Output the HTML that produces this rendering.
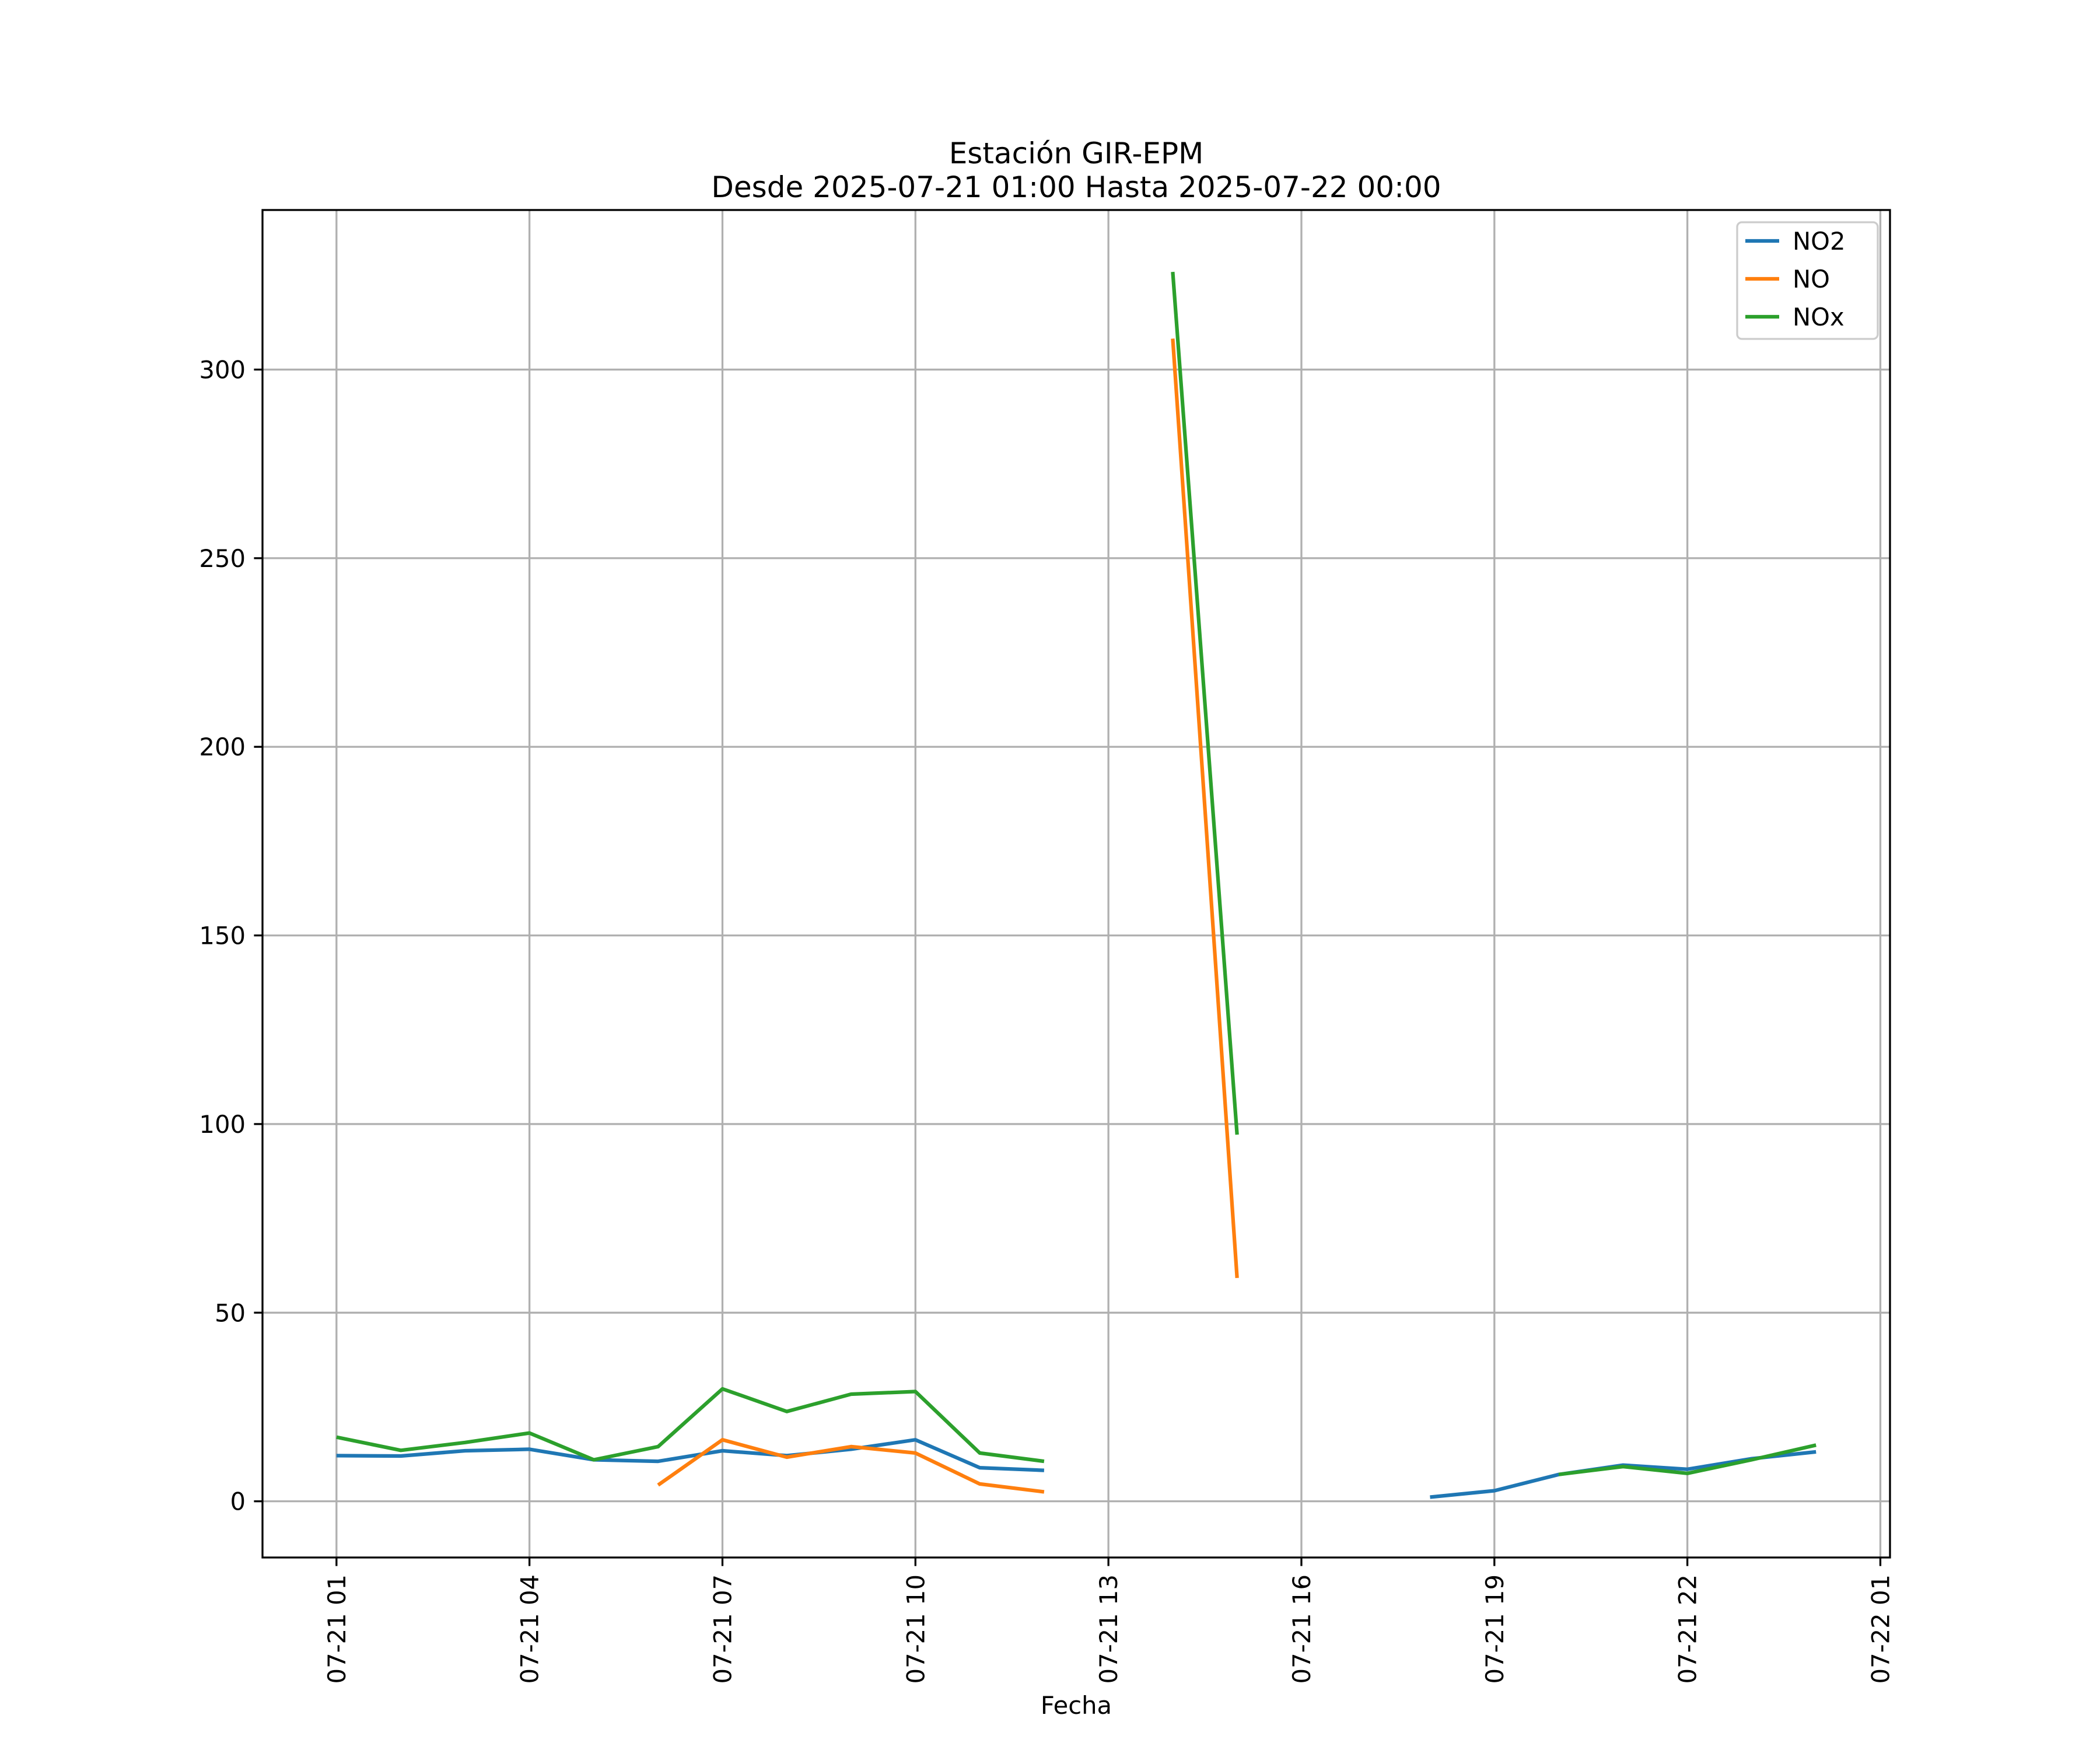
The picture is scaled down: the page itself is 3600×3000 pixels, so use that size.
<!DOCTYPE html>
<html><head><meta charset="utf-8"><style>
html,body{margin:0;padding:0;background:#fff;}
svg{display:block;font-family:"DejaVu Sans","Liberation Sans",sans-serif;}
</style></head><body>
<svg id="chart" width="3600" height="3000" viewBox="0 0 3600 3000" xmlns="http://www.w3.org/2000/svg">
<rect x="0" y="0" width="3600" height="3000" fill="#fff"/>
<text x="1845" y="280" font-size="50" text-anchor="middle">Estación GIR-EPM</text>
<text x="1845" y="338" font-size="50" text-anchor="middle">Desde 2025-07-21 01:00 Hasta 2025-07-22 00:00</text>
<g id="grid"></g>
<g id="series"></g>
<rect x="450" y="360" width="2790" height="2310" fill="none" stroke="#000" stroke-width="3.3"/>
<g id="axes"></g>
<text x="1845" y="2938" font-size="41.7" text-anchor="middle">Fecha</text>
<g>
<rect x="2978" y="381" width="241" height="200" rx="8" fill="#fff" fill-opacity="0.8" stroke="#ccc" stroke-width="3.3"/>
<g><line x1="2992" y1="413" x2="3050" y2="413" stroke="#1f77b4" stroke-width="6.25"/><text x="3073" y="428" font-size="41.7">NO2</text></g>
<g><line x1="2992" y1="478" x2="3050" y2="478" stroke="#ff7f0e" stroke-width="6.25"/><text x="3073" y="493" font-size="41.7">NO</text></g>
<g><line x1="2992" y1="543" x2="3050" y2="543" stroke="#2ca02c" stroke-width="6.25"/><text x="3073" y="558" font-size="41.7">NOx</text></g>
</g>
</svg>
<script>
const hours = [1,2,3,4,5,6,7,8,9,10,11,12,13,14,15,16,17,18,19,20,21,22,23,24];
const no2 = [12.1,12.0,13.4,13.8,11.0,10.6,13.4,12.1,13.8,16.3,8.9,8.2,null,null,null,null,null,1.1,2.8,7.1,9.6,8.5,11.3,13.1];
const no = [null,null,null,null,null,4.3,16.3,11.7,14.5,12.8,4.6,2.5,null,308.2,59.2,null,null,null,null,null,null,null,null,null];
const nox = [17.0,13.5,15.6,18.1,11.0,14.5,29.8,23.8,28.4,29.1,12.8,10.6,null,325.9,97.2,null,null,null,null,7.1,9.2,7.4,11.0,14.9];
const yTicks = [0,50,100,150,200,250,300];
const xTickHours = [1,4,7,10,13,16,19,22,25];
const xTickLabels = ["07-21 01","07-21 04","07-21 07","07-21 10","07-21 13","07-21 16","07-21 19","07-21 22","07-22 01"];

const L=450,R=3240,T=360,B=2670;
const xMin=-0.15,xMax=25.15,yMin=-14.9,yMax=342.3;
function xs(h){return L+(h-xMin)/(xMax-xMin)*(R-L);}
function ys(v){return B-(v-yMin)/(yMax-yMin)*(B-T);}
const NS="http://www.w3.org/2000/svg";
function mk(tag,attrs,parent){const e=document.createElementNS(NS,tag);for(const k in attrs)e.setAttribute(k,attrs[k]);parent.appendChild(e);return e;}
const grid=document.getElementById('grid'),axes=document.getElementById('axes'),ser=document.getElementById('series');
yTicks.forEach(v=>{
  const y=ys(v);
  const g=mk('line',{x1:L,x2:R,y1:y,y2:y,stroke:'#b0b0b0','stroke-width':3.3},grid);
  
  
  const t=mk('line',{x1:L-14.6,x2:L,y1:y,y2:y,stroke:'#000','stroke-width':3.3},axes);
  
  
  const tx=mk('text',{x:L-29,y:y+15,'font-size':41.7,'text-anchor':'end'},axes);
  tx.textContent=String(v);
  
  
});
xTickHours.forEach((h,i)=>{
  const x=xs(h);
  const g=mk('line',{x1:x,x2:x,y1:T,y2:B,stroke:'#b0b0b0','stroke-width':3.3},grid);
  
  
  const t=mk('line',{x1:x,x2:x,y1:B,y2:B+14.6,stroke:'#000','stroke-width':3.3},axes);
  
  
  const tx=mk('text',{x:0,y:0,'font-size':41.7,'text-anchor':'end',transform:`translate(${x+15},${B+29}) rotate(-90)`},axes);
  tx.textContent=xTickLabels[i];
  
  
});
function drawSeries(vals,color,name){
  let d='',pen=false;
  vals.forEach((v,i)=>{
    if(v===null){pen=false;return;}
    d+=(pen?'L':'M')+xs(hours[i]).toFixed(1)+' '+ys(v).toFixed(1)+' ';
    pen=true;
  });
  const p=mk('path',{d:d,fill:'none',stroke:color,'stroke-width':6.25,'stroke-linejoin':'round'},ser);
  
  
}
drawSeries(no2,'#1f77b4','no2-line');
drawSeries(no,'#ff7f0e','no-line');
drawSeries(nox,'#2ca02c','nox-line');
</script>
</body></html>
